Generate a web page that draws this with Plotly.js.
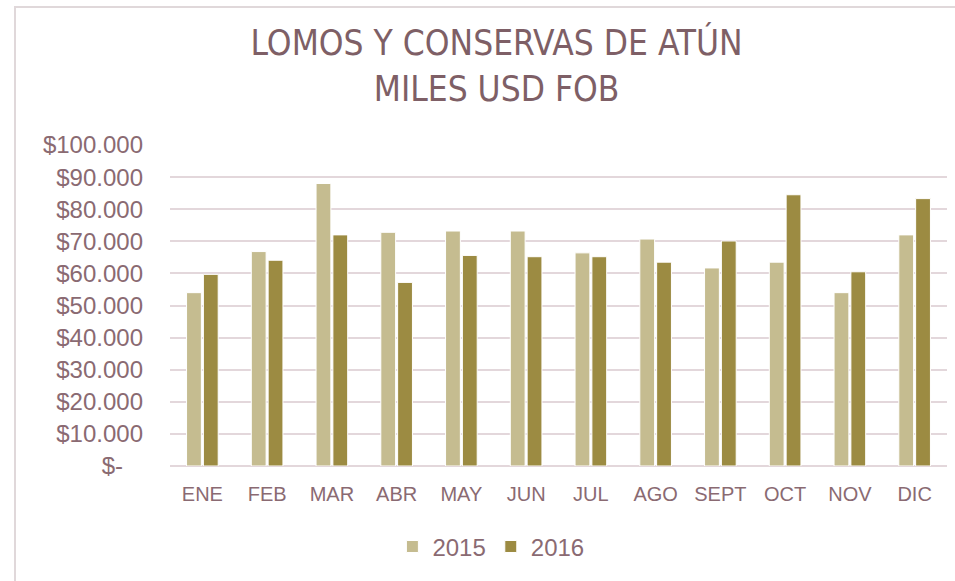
<!DOCTYPE html>
<html>
<head>
<meta charset="utf-8">
<script src="https://cdn.plot.ly/plotly-3.0.1.min.js"></script>
<style>
  html, body { margin: 0; padding: 0; background: #fff; }
  #chart { width: 955px; height: 581px; }
</style>
</head>
<body>
<div id="chart"></div>
<script>
const months = ['ENE', 'FEB', 'MAR', 'ABR', 'MAY', 'JUN', 'JUL', 'AGO', 'SEPT', 'OCT', 'NOV', 'DIC'];
const values2015 = [54000, 66800, 88000, 72800, 73200, 73200, 66400, 70700, 61700, 63500, 54000, 72000];
const values2016 = [59700, 64100, 72000, 57200, 65600, 65200, 65200, 63500, 70100, 84500, 60500, 83300];
const tickVals = [0, 10000, 20000, 30000, 40000, 50000, 60000, 70000, 80000, 90000, 100000];
const tickText = ['$-\u00a0\u00a0\u00a0', '$10.000', '$20.000', '$30.000', '$40.000', '$50.000',
  '$60.000', '$70.000', '$80.000', '$90.000', '$100.000'];

const textColor = '#8a6a72';

const trace2015 = {
  x: months, y: values2015, type: 'bar', name: '2015',
  marker: { color: '#c5bc90', line: { color: '#ffffff', width: 1 } }
};
const trace2016 = {
  x: months, y: values2016, type: 'bar', name: '2016',
  marker: { color: '#9c8b42', line: { color: '#ffffff', width: 1 } }
};

const layout = {
  width: 955, height: 581,
  margin: { l: 170, r: 8, t: 145, b: 115 },
  paper_bgcolor: '#ffffff', plot_bgcolor: '#ffffff',
  font: { family: 'Liberation Sans, Arial, sans-serif', color: textColor },
  title: {
    text: 'LOMOS Y CONSERVAS DE ATÚN<br>MILES USD FOB',
    font: { family: 'DejaVu Sans Condensed, Liberation Sans, sans-serif', size: 35, color: '#7e5f66' },
    x: 0.52, xanchor: 'center', y: 0.905, yanchor: 'top', yref: 'container'
  },
  barmode: 'group', bargap: 0.48, bargroupgap: 0.12,
  xaxis: {
    tickfont: { size: 20, color: textColor },
    showgrid: false, showline: false, ticks: '', ticklabelstandoff: 14
  },
  yaxis: {
    range: [0, 100000], tickvals: tickVals, ticktext: tickText,
    tickfont: { size: 24, color: textColor },
    gridcolor: '#e3d7db', gridwidth: 2, zeroline: true, zerolinecolor: '#e3d7db', zerolinewidth: 2,
    ticks: '', ticklabelstandoff: 26
  },
  showlegend: true,
  legend: {
    orientation: 'h', x: 0.413, xanchor: 'center', y: -0.252, yanchor: 'middle',
    font: { size: 24, color: textColor }, itemwidth: 30, tracegroupgap: 0
  },
  shapes: [{
    type: 'rect', xref: 'paper', yref: 'paper',
    x0: -0.1995, x1: 1.05, y0: -0.5, y1: 1.43,
    line: { color: '#e0d8da', width: 2 }
  }]
};

Plotly.newPlot('chart', [trace2015, trace2016], layout, { displayModeBar: false });
</script>
</body>
</html>
